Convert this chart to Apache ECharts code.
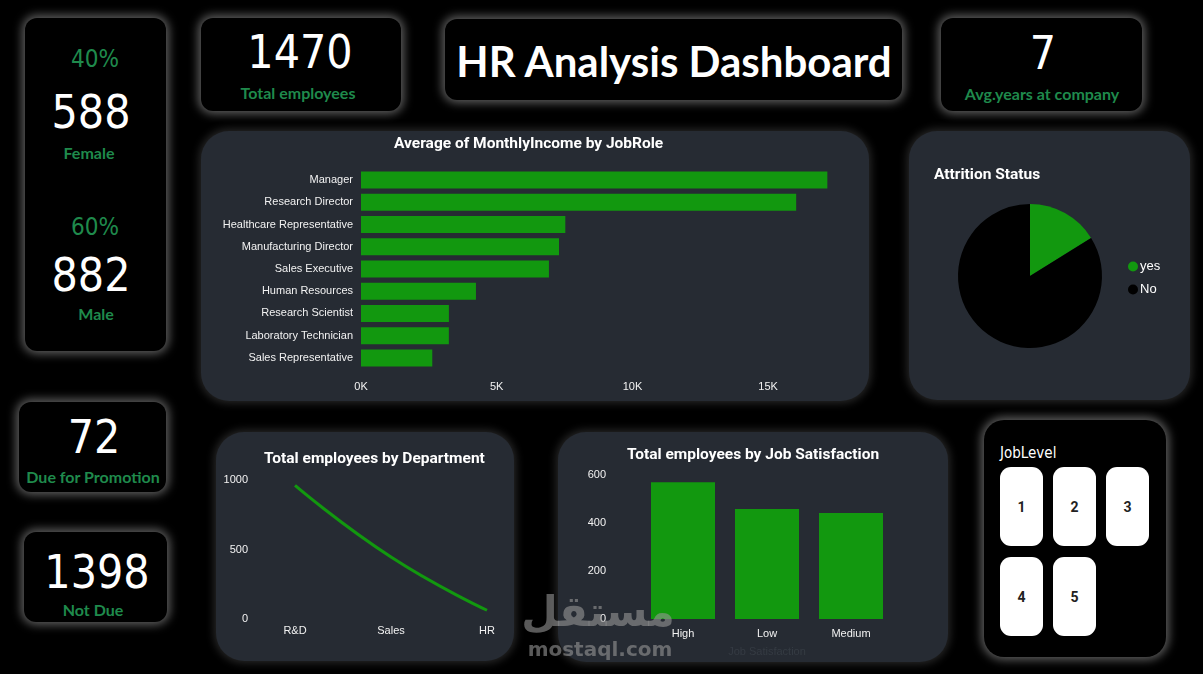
<!DOCTYPE html>
<html>
<head>
<meta charset="utf-8">
<title>HR Analysis Dashboard</title>
<script src="https://cdn.jsdelivr.net/npm/echarts@6/dist/echarts.min.js"></script>
<style>
body { margin: 0; background: #000; width: 1203px; height: 674px; position: relative; overflow: hidden; font-family: Roboto, sans-serif; }
.card { position: absolute; background: #000; border-radius: 12px; box-shadow: 0 0 10px 3px rgba(170,170,170,0.55); }
.panel { position: absolute; background: #262b33; border-radius: 28px; box-shadow: 0 0 8px 2px rgba(45,45,45,0.9); }
.chart { position: absolute; }
.t { position: absolute; transform: translate(-50%, -50%); white-space: nowrap; line-height: 1; }
.num { color: #fff; font-size: 46px; font-family: "DejaVu Sans Condensed", Roboto, sans-serif; }
.lbl { color: #1f8a4c; font-size: 16px; font-weight: bold; font-family: Lato, sans-serif; }
.pct { color: #1f8a4c; font-size: 24px; font-family: "DejaVu Sans Condensed", Roboto, sans-serif; }
.title { color: #fff; font-size: 42px; font-weight: bold; font-family: Lato, sans-serif; }
.tile { position: absolute; background: #fff; border-radius: 11px; width: 43px; height: 79px;
  display: flex; align-items: center; justify-content: center; font: bold 14px Roboto, sans-serif; color: #222; }
.wm { color: rgba(150,150,150,0.6); font-weight: bold; z-index: 5; font-family: "DejaVu Sans", sans-serif; }
</style>
</head>
<body>
<!-- cartes noires -->
<div class="card" style="left:25px;top:18px;width:141px;height:333px;"></div>
<div class="card" style="left:201px;top:18px;width:200px;height:93px;"></div>
<div class="card" style="left:445px;top:19px;width:457px;height:81px;"></div>
<div class="card" style="left:941px;top:18px;width:201px;height:93px;"></div>
<div class="card" style="left:19px;top:402px;width:147px;height:90px;"></div>
<div class="card" style="left:24px;top:532px;width:143px;height:90px;"></div>
<div class="card" style="left:984px;top:420px;width:182px;height:237px;border-radius:20px;"></div>

<!-- panneaux gris -->
<div class="panel" style="left:201px;top:131px;width:668px;height:270px;"></div>
<div class="panel" style="left:909px;top:131px;width:281px;height:269px;"></div>
<div class="panel" style="left:216px;top:432px;width:298px;height:229px;"></div>
<div class="panel" style="left:558px;top:432px;width:390px;height:230px;"></div>

<div id="barChart" class="chart" style="left:201px;top:131px;width:668px;height:270px;"></div>
<div id="pieChart" class="chart" style="left:909px;top:131px;width:281px;height:269px;"></div>
<div id="lineChart" class="chart" style="left:216px;top:432px;width:298px;height:229px;"></div>
<div id="satChart" class="chart" style="left:558px;top:432px;width:390px;height:230px;"></div>

<script>
// KPI
const totalEmployees = 1470;
const femaleCount = 588;
const maleCount = 882;
const femalePct = '40%';
const malePct = '60%';
const avgYears = 7;
const duePromotion = 72;
const notDue = 1398;

// revenu mensuel moyen par poste
const jobRoles = ['Manager', 'Research Director', 'Healthcare Representative', 'Manufacturing Director',
  'Sales Executive', 'Human Resources', 'Research Scientist', 'Laboratory Technician', 'Sales Representative'];
const avgIncome = [17181, 16033, 7528, 7295, 6924, 4235, 3239, 3237, 2626];

// attrition
const attritionNames = ['yes', 'No'];
const attritionValues = [237, 1233];

// departements
const departments = ['R&D', 'Sales', 'HR'];
const deptCounts = [961, 446, 63];

// satisfaction
const satisfaction = ['High', 'Low', 'Medium'];
const satisfactionCounts = [570, 458, 442];

const jobLevels = [1, 2, 3, 4, 5];

const green = '#12980f';
const textColor = '#f2f2f2';
const titleStyle = { color: '#fff', fontSize: 15.5, fontWeight: 'bold', fontFamily: 'Roboto' };

const addText = (txt, x, y, cls) => {
  const el = document.createElement('div');
  el.className = 't ' + cls;
  el.style.left = x + 'px';
  el.style.top = y + 'px';
  el.textContent = txt;
  document.body.appendChild(el);
  return el;
};

addText(femalePct, 95, 59, 'pct');
addText(femaleCount, 91, 112, 'num');
addText('Female', 89, 153, 'lbl');
addText(malePct, 95, 227, 'pct');
addText(maleCount, 91, 275, 'num');
addText('Male', 96, 314, 'lbl');
addText(totalEmployees, 300, 52, 'num');
addText('Total employees', 298, 93, 'lbl');
addText('HR Analysis Dashboard', 674, 61, 'title');
addText(avgYears, 1043, 53, 'num');
addText('Avg.years at company', 1042, 94, 'lbl');
addText(duePromotion, 94, 437, 'num');
addText('Due for Promotion', 93, 477, 'lbl');
addText(notDue, 97, 572, 'num');
addText('Not Due', 93, 610, 'lbl');

// slicer JobLevel
const jl = document.createElement('div');
jl.style.cssText = 'position:absolute;left:1000px;top:444px;color:#fff;font:15px "DejaVu Sans Condensed",Roboto,sans-serif;';
jl.textContent = 'JobLevel';
document.body.appendChild(jl);
jobLevels.forEach((lv, i) => {
  const d = document.createElement('div');
  d.className = 'tile';
  d.style.left = (1000 + (i % 3) * 53) + 'px';
  d.style.top = (467 + Math.floor(i / 3) * 90) + 'px';
  d.textContent = lv;
  document.body.appendChild(d);
});

// filigrane
addText('مستقل', 598, 612, 'wm').style.fontSize = '42px';
addText('mostaql.com', 600, 649, 'wm').style.fontSize = '20px';

// Bar chart
const barChart = echarts.init(document.getElementById('barChart'));
barChart.setOption({
  title: { text: 'Average of MonthlyIncome by JobRole', left: 188, top: 0, textStyle: titleStyle },
  grid: { left: 160, right: 33, top: 38, bottom: 32 },
  xAxis: {
    type: 'value', min: 0, max: 17500, interval: 5000,
    splitLine: { show: false },
    axisLabel: { color: textColor, fontSize: 11, margin: 12, showMaxLabel: false,
      formatter: (v) => (v / 1000) + 'K' }
  },
  yAxis: {
    type: 'category', data: jobRoles, inverse: true,
    axisLine: { show: false }, axisTick: { show: false },
    axisLabel: { color: textColor, fontSize: 11, margin: 8 }
  },
  series: [{ type: 'bar', data: avgIncome, barWidth: 17, itemStyle: { color: green } }]
});

// Pie chart
const pieChart = echarts.init(document.getElementById('pieChart'));
pieChart.setOption({
  title: { text: 'Attrition Status', left: 20, top: 31, textStyle: titleStyle },
  legend: {
    orient: 'vertical', left: 214, top: 124, icon: 'circle', itemWidth: 10, itemHeight: 10, itemGap: 10,
    textStyle: { color: '#fff', fontSize: 13, padding: [0, 0, 0, -3] },
    data: attritionNames
  },
  series: [{
    type: 'pie', center: [121, 145], radius: 72, startAngle: 90,
    label: { show: false }, labelLine: { show: false },
    data: attritionNames.map((n, i) => ({ name: n, value: attritionValues[i] })),
    color: [green, '#000000']
  }]
});

// Line chart
const lineChart = echarts.init(document.getElementById('lineChart'));
lineChart.setOption({
  title: { text: 'Total employees by Department', left: 43, top: 14, textStyle: titleStyle },
  grid: { left: 79, right: 27, top: 48, bottom: 42 },
  xAxis: {
    type: 'category', data: departments, boundaryGap: false,
    axisLine: { show: false }, axisTick: { show: false },
    axisLabel: { color: textColor, fontSize: 11, margin: 6 }
  },
  yAxis: {
    type: 'value', min: 0, max: 1000, interval: 500,
    splitLine: { show: false },
    axisLabel: { color: textColor, fontSize: 11, margin: 47, formatter: (v) => String(v) }
  },
  series: [{ type: 'line', data: deptCounts, smooth: true, showSymbol: false,
    lineStyle: { color: green, width: 3 } }]
});

// Job satisfaction
const satChart = echarts.init(document.getElementById('satChart'));
satChart.setOption({
  title: { text: 'Total employees by Job Satisfaction', left: 'center', top: 10, textStyle: titleStyle },
  grid: { left: 83, right: 55, top: 43, bottom: 40 },
  xAxis: {
    type: 'category', data: satisfaction,
    name: 'Job Satisfaction', nameLocation: 'middle', nameGap: 27,
    nameTextStyle: { color: '#353b43', fontSize: 11 },
    axisLine: { show: false }, axisTick: { show: false },
    axisLabel: { color: textColor, fontSize: 11, margin: 9 }
  },
  yAxis: {
    type: 'value', min: 0, max: 600, interval: 200,
    splitLine: { show: false },
    axisLabel: { color: textColor, fontSize: 11, margin: 35 }
  },
  series: [{ type: 'bar', data: satisfactionCounts, barWidth: 64, itemStyle: { color: green } }]
});
</script>
</body>
</html>
